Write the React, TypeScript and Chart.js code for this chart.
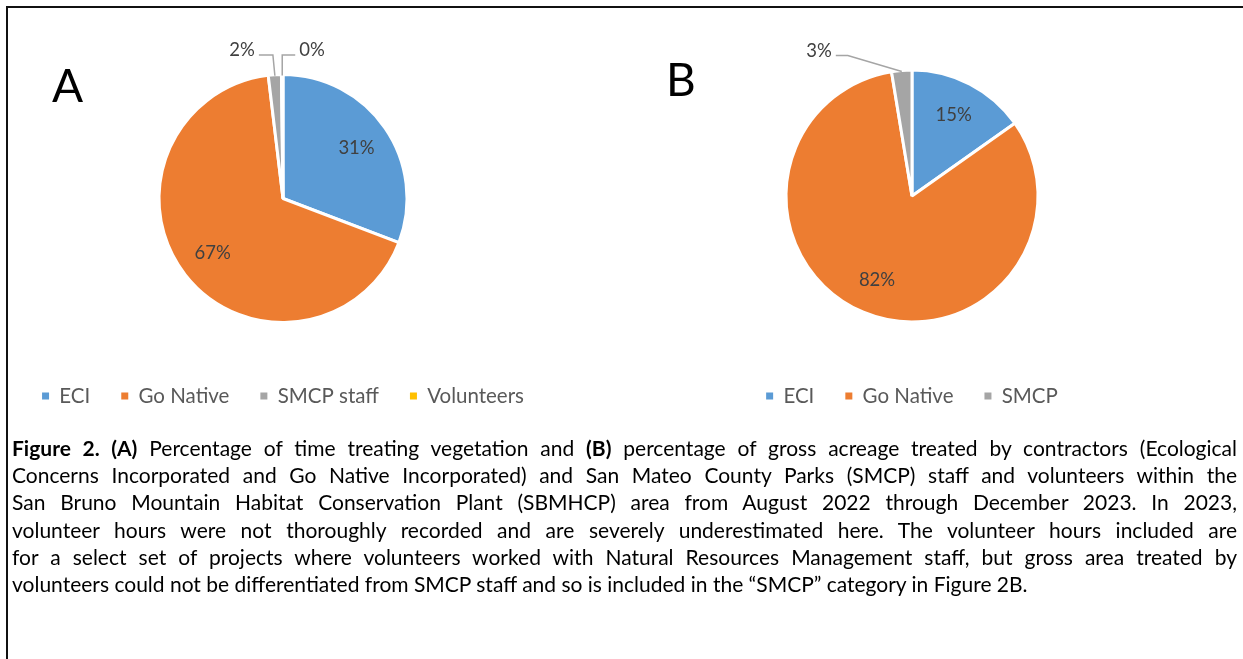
import React, { useEffect, useRef } from 'react';
import { Chart, registerables } from 'chart.js';

Chart.register(...registerables);

// ---------- data ----------
const labelsA = ['ECI', 'Go Native', 'SMCP staff', 'Volunteers'];
const valuesA = [30.8, 67.3, 1.7, 0.2];
const colorsA = ['#5B9BD5', '#ED7D31', '#A5A5A5', '#FFC000'];

const labelsB = ['ECI', 'Go Native', 'SMCP'];
const valuesB = [15.2, 82.2, 2.6];
const colorsB = ['#5B9BD5', '#ED7D31', '#A5A5A5'];

const panelA = 'A';
const panelB = 'B';

// caption lines; **...** marks bold text
const captionLines = [
  '**Figure 2. (A)** Percentage of time treating vegetation and **(B)** percentage of gross acreage treated by contractors (Ecological',
  'Concerns Incorporated and Go Native Incorporated) and San Mateo County Parks (SMCP) staff and volunteers within the',
  'San Bruno Mountain Habitat Conservation Plant (SBMHCP) area from August 2022 through December 2023. In 2023,',
  'volunteer hours were not thoroughly recorded and are severely underestimated here. The volunteer hours included are',
  'for a select set of projects where volunteers worked with Natural Resources Management staff, but gross area treated by',
  'volunteers could not be differentiated from SMCP staff and so is included in the \u201CSMCP\u201D category in Figure 2B.',
];

const FONT = 'Lato, "Open Sans", sans-serif';

// ---------- label plugin ----------
const pieLabels = {
  id: 'pieLabels',
  afterDatasetsDraw(chart: any, _args: any, opts: any) {
    const ctx = chart.ctx;
    const vals = chart.data.datasets[0].data as number[];
    const total = vals.reduce((a, b) => a + b, 0);
    const meta = chart.getDatasetMeta(0);
    ctx.save();
    ctx.font = `${opts.fontSize}px ${FONT}`;
    ctx.fillStyle = '#404040';
    meta.data.forEach((arc: any, i: number) => {
      const { x, y, startAngle, endAngle, outerRadius } = arc.getProps(
        ['x', 'y', 'startAngle', 'endAngle', 'outerRadius'],
        true
      );
      const mid = (startAngle + endAngle) / 2;
      const pct = Math.round((vals[i] / total) * 100) + '%';
      const out = opts.outside && opts.outside[i];
      if (!out) {
        const r = outerRadius * opts.insideRatio;
        ctx.textAlign = 'center';
        ctx.textBaseline = 'middle';
        ctx.fillText(pct, x + Math.cos(mid) * r, y + Math.sin(mid) * r);
      } else {
        const ax = x + Math.cos(mid) * (outerRadius - 1);
        const ay = y + Math.sin(mid) * (outerRadius - 1);
        const ly = y - outerRadius - out.rise;
        const ex = ax + out.elbowDx;
        const dir = out.side === 'left' ? -1 : 1;
        const hx = ex + dir * out.run;
        ctx.strokeStyle = '#A5A5A5';
        ctx.lineWidth = 1.5;
        ctx.beginPath();
        ctx.moveTo(ax, ay);
        ctx.lineTo(ex, ly);
        ctx.lineTo(hx, ly);
        ctx.stroke();
        ctx.textAlign = dir < 0 ? 'right' : 'left';
        ctx.textBaseline = 'alphabetic';
        ctx.fillText(pct, hx + dir * 4, ly + 1);
      }
    });
    ctx.restore();
  },
};

function makeLegendLabels(colors: string[]) {
  return (chart: any) =>
    (chart.data.labels as string[]).map((t, i) => ({
      text: t,
      fillStyle: colors[i],
      strokeStyle: colors[i],
      lineWidth: 0,
      hidden: false,
      index: i,
      fontColor: '#595959',
    }));
}

function PieChart(props: {
  labels: string[];
  values: number[];
  colors: string[];
  width: number;
  height: number;
  radius: number;
  padding: any;
  outside: any;
}) {
  const ref = useRef<HTMLCanvasElement | null>(null);
  useEffect(() => {
    if (!ref.current) return;
    const chart = new Chart(ref.current, {
      type: 'pie',
      data: {
        labels: props.labels,
        datasets: [
          {
            data: props.values,
            backgroundColor: props.colors,
            borderColor: '#FFFFFF',
            borderWidth: 3,
            radius: props.radius,
          } as any,
        ],
      },
      options: {
        responsive: false,
        animation: false,
        events: [],
        layout: { padding: props.padding },
        plugins: {
          tooltip: { enabled: false },
          legend: {
            position: 'bottom',
            align: 'center',
            labels: {
              font: { family: FONT, size: 20.5 },
              color: '#595959',
              boxWidth: 7,
              boxHeight: 7,
              padding: 31,
              generateLabels: makeLegendLabels(props.colors),
            },
          },
          pieLabels: {
            fontSize: 18.5,
            insideRatio: 0.72,
            outside: props.outside,
          },
        } as any,
      },
      plugins: [pieLabels as any],
    });
    return () => chart.destroy();
  }, []);
  return (
    <canvas
      ref={ref}
      width={props.width}
      height={props.height}
      style={{ width: props.width, height: props.height, display: 'block' }}
    />
  );
}

function CaptionLine({ text, last }: { text: string; last: boolean }) {
  const parts = text.split('**');
  return (
    <div
      style={{
        height: 27.2,
        lineHeight: '27.2px',
        whiteSpace: 'nowrap',
        textAlign: last ? 'left' : 'justify',
        textAlignLast: last ? 'left' : 'justify',
      } as any}
    >
      {parts.map((p, i) =>
        i % 2 === 1 ? (
          <b key={i} style={{ fontWeight: 700 }}>
            {p}
          </b>
        ) : (
          <span key={i}>{p}</span>
        )
      )}
    </div>
  );
}

export default function App() {
  return (
    <div
      style={{
        position: 'absolute',
        left: 0,
        top: 0,
        width: 1243,
        height: 659,
        background: '#FFFFFF',
        overflow: 'hidden',
        fontFamily: FONT,
      }}
    >
      <div style={{ position: 'absolute', left: -20, top: 0 }}>
        <PieChart
          labels={labelsA}
          values={valuesA}
          colors={colorsA}
          width={620}
          height={430}
          radius={124}
          padding={{ top: 42.25, bottom: 13.75, left: 0, right: 14 }}
          outside={{
            2: { side: 'left', elbowDx: -2, run: 14, rise: 19.5 },
            3: { side: 'right', elbowDx: 0, run: 13, rise: 19.5 },
          }}
        />
      </div>
      <div style={{ position: 'absolute', left: 620, top: 0 }}>
        <PieChart
          labels={labelsB}
          values={valuesB}
          colors={colorsB}
          width={600}
          height={430}
          radius={126}
          padding={{ top: 37.25, bottom: 13.75, left: 0, right: 16 }}
          outside={{
            2: { side: 'left', elbowDx: -54, run: 12, rise: 14.5 },
          }}
        />
      </div>
      <div
        style={{
          position: 'absolute',
          left: 6,
          top: 6,
          width: 1240,
          height: 660,
          borderTop: '2px solid #111',
          borderLeft: '2px solid #111',
        }}
      />
      <div
        style={{
          position: 'absolute',
          left: 52,
          top: 62,
          fontSize: 46,
          lineHeight: '46px',
          color: '#000',
        }}
      >
        {panelA}
      </div>
      <div
        style={{
          position: 'absolute',
          left: 666,
          top: 56,
          fontSize: 46,
          lineHeight: '46px',
          color: '#000',
        }}
      >
        {panelB}
      </div>
      <div
        style={{
          position: 'absolute',
          left: 12,
          top: 434,
          width: 1225,
          fontSize: 21,
          color: '#000',
        }}
      >
        {captionLines.map((l, i) => (
          <CaptionLine key={i} text={l} last={i === captionLines.length - 1} />
        ))}
      </div>
    </div>
  );
}
